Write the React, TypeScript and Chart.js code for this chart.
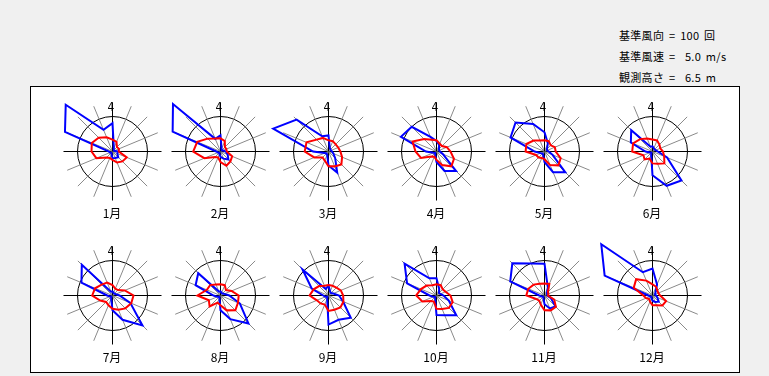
import React, { useEffect, useRef } from 'react';
import { Chart, registerables } from 'chart.js';

Chart.register(...registerables);

// 16 wind directions, clockwise from north
const directions = ['N', 'NNE', 'NE', 'ENE', 'E', 'ESE', 'SE', 'SSE', 'S', 'SSW', 'SW', 'WSW', 'W', 'WNW', 'NW', 'NNW'];
const monthLabels = ['1月', '2月', '3月', '4月', '5月', '6月', '7月', '8月', '9月', '10月', '11月', '12月'];

const refCount = 100; // 基準風向 (回)
const refSpeed = 5.0; // 基準風速 (m/s)
const obsHeight = 6.5; // 観測高さ (m)

// wind direction frequency (counts)
const freq01 = [81, 10, 5, 5, 16, 15, 23, 20, 19, 8, 5, 8, 10, 147, 189, 67];
const freq02 = [46, 8, 5, 8, 15, 22, 32, 22, 15, 8, 5, 8, 12, 148, 192, 39];
const freq03 = [46, 10, 8, 8, 10, 15, 27, 65, 40, 10, 8, 12, 44, 171, 129, 47];
const freq04 = [30, 20, 10, 8, 10, 20, 79, 60, 30, 10, 6, 10, 30, 110, 100, 45];
const freq05 = [55, 25, 10, 8, 12, 25, 84, 64, 30, 10, 8, 12, 28, 105, 117, 85];
const freq06 = [15, 10, 8, 10, 15, 45, 117, 106, 68, 10, 5, 8, 20, 67, 86, 15];
const freq07 = [12, 8, 8, 10, 20, 55, 121, 75, 42, 10, 5, 8, 15, 96, 124, 12];
const freq08 = [12, 8, 8, 12, 25, 60, 113, 73, 42, 8, 5, 10, 20, 77, 90, 12];
const freq09 = [29, 12, 10, 15, 30, 45, 90, 75, 83, 10, 5, 10, 15, 52, 105, 20];
const freq10 = [49, 20, 10, 12, 20, 38, 80, 61, 56, 10, 6, 10, 20, 91, 129, 53];
const freq11 = [91, 25, 10, 8, 8, 20, 44, 40, 25, 8, 5, 8, 15, 106, 130, 99];
const freq12 = [77, 34, 12, 8, 10, 15, 25, 20, 15, 8, 5, 8, 12, 148, 207, 72];

// mean wind speed by direction (m/s)
const speed01 = [1.7, 1.5, 0.9, 1.0, 0.9, 2.2, 2.0, 1.7, 1.2, 1.0, 1.2, 2.5, 3.0, 3.2, 2.8, 2.2];
const speed02 = [1.9, 1.6, 0.9, 0.9, 0.9, 1.8, 2.0, 2.2, 1.5, 0.9, 1.1, 2.5, 3.9, 3.6, 2.6, 2.0];
const speed03 = [1.6, 1.6, 1.45, 1.5, 1.7, 2.1, 2.6, 2.3, 2.1, 1.4, 1.2, 2.2, 3.4, 3.4, 2.4, 2.1];
const speed04 = [1.6, 1.2, 1.1, 1.6, 2.0, 2.7, 3.0, 2.1, 1.2, 0.8, 1.0, 2.4, 3.0, 3.7, 2.5, 1.8];
const speed05 = [1.6, 1.6, 1.25, 1.6, 1.6, 2.5, 2.8, 2.1, 1.1, 1.0, 1.2, 1.3, 2.7, 2.8, 2.2, 1.7];
const speed06 = [1.7, 1.7, 1.4, 1.2, 1.5, 1.8, 2.4, 1.9, 1.7, 1.1, 1.6, 1.4, 2.9, 3.0, 2.5, 2.0];
const speed07 = [1.5, 1.05, 1.1, 1.9, 3.0, 2.9, 2.6, 2.2, 1.9, 1.5, 1.3, 1.9, 2.9, 2.7, 2.2, 2.0];
const speed08 = [1.6, 1.6, 1.1, 1.7, 2.6, 2.7, 3.0, 2.3, 1.4, 1.1, 2.2, 1.8, 3.3, 2.1, 2.1, 1.7];
const speed09 = [1.5, 1.5, 1.6, 1.9, 2.1, 2.3, 2.4, 2.2, 2.2, 1.4, 1.6, 1.8, 2.7, 2.3, 1.9, 1.5];
const speed10 = [1.6, 1.6, 1.25, 1.4, 2.0, 2.5, 2.5, 2.1, 1.9, 0.95, 1.1, 2.2, 2.9, 2.4, 2.0, 1.6];
const speed11 = [1.7, 1.8, 0.7, 0.6, 0.5, 1.5, 2.3, 2.3, 2.1, 1.4, 1.05, 1.3, 2.6, 2.5, 2.2, 1.8];
const speed12 = [1.6, 1.35, 1.0, 0.9, 1.1, 2.1, 2.0, 1.5, 1.4, 0.95, 0.7, 1.0, 1.3, 2.9, 3.3, 2.3];

const freqs = [freq01, freq02, freq03, freq04, freq05, freq06, freq07, freq08, freq09, freq10, freq11, freq12];
const speeds = [speed01, speed02, speed03, speed04, speed05, speed06, speed07, speed08, speed09, speed10, speed11, speed12];

const CANVAS = 170;
const PAD = 36;

const crispPlugin = {
  id: 'crisp',
  beforeDraw(chart: any) {
    chart.ctx.save();
    chart.ctx.translate(0.5, 0.5);
  },
  afterDraw(chart: any) {
    chart.ctx.restore();
  },
};

const labelPlugin = {
  id: 'roseLabels',
  afterDraw(chart: any, _args: any, opts: any) {
    const r = chart.scales.r;
    const ctx = chart.ctx;
    ctx.save();
    ctx.fillStyle = '#000';
    ctx.textAlign = 'center';
    ctx.textBaseline = 'middle';
    ctx.font = '12px "Noto Sans CJK JP", sans-serif';
    ctx.fillText(opts.month, r.xCenter, r.yCenter + 62);
    ctx.font = '12px "DejaVu Sans Condensed", "DejaVu Sans", sans-serif';
    ctx.fillText('4', r.xCenter - 1, r.yCenter - 43);
    ctx.restore();
  },
};

function Rose({ index, left, top }: { index: number; left: number; top: number }) {
  const ref = useRef<HTMLCanvasElement>(null);
  useEffect(() => {
    const chart = new Chart(ref.current as HTMLCanvasElement, {
      type: 'radar',
      data: {
        labels: directions,
        datasets: [
          {
            label: '平均風速',
            data: speeds[index].map((v) => (v * refCount) / refSpeed),
            borderColor: '#ff0000',
            borderWidth: 2,
            fill: false,
            pointRadius: 0,
            tension: 0,
            clip: false,
          } as any,
          {
            label: '風向頻度',
            data: freqs[index],
            borderColor: '#0000ff',
            borderWidth: 2,
            fill: false,
            pointRadius: 0,
            tension: 0,
            clip: false,
          } as any,
        ],
      },
      options: {
        responsive: false,
        animation: false,
        devicePixelRatio: 1,
        events: [],
        layout: { padding: PAD },
        elements: { line: { borderJoinStyle: 'miter' } },
        plugins: {
          legend: { display: false },
          tooltip: { enabled: false },
          roseLabels: { month: monthLabels[index] },
        } as any,
        scales: {
          r: {
            min: 0,
            max: 140,
            ticks: { display: false },
            pointLabels: { display: false },
            grid: { circular: true, color: '#000000', lineWidth: 1 },
            angleLines: {
              display: true,
              lineWidth: 1,
              color: (c: any) => (c.index % 4 === 0 ? '#000000' : '#8a8a8a'),
            },
            afterBuildTicks: (s: any) => {
              s.ticks = [{ value: 0 }, { value: refCount }];
            },
          } as any,
        },
      },
      plugins: [crispPlugin, labelPlugin],
    });
    return () => chart.destroy();
  }, [index]);
  return (
    <canvas
      ref={ref}
      width={CANVAS}
      height={CANVAS}
      style={{ position: 'absolute', left, top, width: CANVAS, height: CANVAS, pointerEvents: 'none' }}
    />
  );
}

export default function App() {
  const colX = [112, 220, 328, 436, 544, 652];
  const rowY = [151, 295];
  const center = PAD + (CANVAS - 2 * PAD) / 2;
  const textStyle: React.CSSProperties = {
    position: 'absolute',
    left: 619,
    fontFamily: '"Noto Sans CJK JP", sans-serif',
    fontSize: 11,
    lineHeight: '14px',
    whiteSpace: 'pre',
    wordSpacing: 2,
    letterSpacing: 0.3,
    color: '#000',
  };
  return (
    <div
      style={{
        position: 'fixed',
        left: 0,
        top: 0,
        width: 769,
        height: 376,
        overflow: 'hidden',
        background: '#f0f0f0',
      }}
    >
      <div style={{ ...textStyle, top: 28 }}>{`基準風向 = ${refCount} 回`}</div>
      <div style={{ ...textStyle, top: 49 }}>{`基準風速 =  ${refSpeed.toFixed(1)} m/s`}</div>
      <div style={{ ...textStyle, top: 70 }}>{`観測高さ =  ${obsHeight.toFixed(1)} m`}</div>
      <div
        style={{
          position: 'absolute',
          left: 30,
          top: 86,
          width: 710,
          height: 287,
          boxSizing: 'border-box',
          border: '1px solid #000',
          background: '#ffffff',
        }}
      />
      {monthLabels.map((_, i) => (
        <Rose
          key={i}
          index={i}
          left={colX[i % 6] - center}
          top={rowY[Math.floor(i / 6)] - center}
        />
      ))}
    </div>
  );
}
